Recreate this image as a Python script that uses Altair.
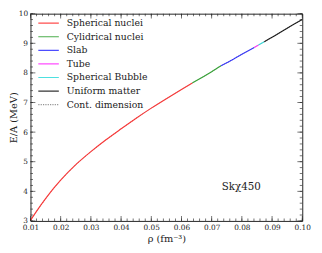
import altair as alt
import pandas as pd
import numpy as np

# ---- data ----
rho = [0.010, 0.0125, 0.015, 0.0175, 0.020, 0.025, 0.030, 0.035, 0.040, 0.045,
       0.050, 0.055, 0.060, 0.0636, 0.065, 0.070, 0.0731, 0.075, 0.080, 0.0841,
       0.0855, 0.0874, 0.090, 0.095, 0.100]
energy = [3.02, 3.40, 3.75, 4.08, 4.38, 4.90, 5.34, 5.74, 6.11, 6.47,
          6.81, 7.13, 7.44, 7.66, 7.74, 8.04, 8.24, 8.34, 8.63, 8.86,
          8.94, 9.05, 9.20, 9.51, 9.80]

phase_names = ["Spherical nuclei", "Cylidrical nuclei", "Slab", "Tube",
               "Spherical Bubble", "Uniform matter"]
phase_edges = [0.010, 0.0636, 0.0731, 0.0841, 0.0855, 0.0874, 0.100]
phase_colors = ["#ff2020", "#1f9a1f", "#2020ff", "#ff20ff", "#20d8d8", "#000000"]
extra_name = "Cont. dimension"
extra_color = "#777777"

x_major = [0.01, 0.02, 0.03, 0.04, 0.05, 0.06, 0.07, 0.08, 0.09, 0.10]
y_major = [3, 4, 5, 6, 7, 8, 9, 10]

note_text = ["Sk\u03c7450"]
note_rho = [0.0798]
note_E = [4.14]

# ---- build tables ----
rows = []
for i, name in enumerate(phase_names):
    lo, hi = phase_edges[i], phase_edges[i + 1]
    for r, e in zip(rho, energy):
        if lo - 1e-9 <= r <= hi + 1e-9:
            rows.append({"rho": r, "E": e, "phase": name})
df = pd.DataFrame(rows)
df_dot = pd.DataFrame({"rho": rho, "E": energy, "phase": extra_name})

all_names = phase_names + [extra_name]
all_colors = phase_colors + [extra_color]
all_dash = [[1, 0]] * 6 + [[1.2, 1.2]]
df_leg = pd.DataFrame({"name": all_names, "col": all_colors,
                       "dash": all_dash, "i": list(range(len(all_names)))})

x_minor = [round(v, 4) for v in np.arange(0.010, 0.1001, 0.002)]
y_minor = [round(v, 2) for v in np.arange(3.0, 10.001, 0.2)]
dfx_major = pd.DataFrame({"rho": x_major})
dfx_minor = pd.DataFrame({"rho": x_minor})
dfy_major = pd.DataFrame({"E": y_major})
dfy_minor = pd.DataFrame({"E": y_minor})
df_note = pd.DataFrame({"rho": note_rho, "E": note_E, "t": note_text})

W, H = 278, 212
FONT = "DejaVu Serif"
MAJ, MIN = 5, 2.6
TXT = "#222222"

xscale = alt.Scale(domain=[0.01, 0.10], nice=False, zero=False)
yscale = alt.Scale(domain=[3, 10], nice=False, zero=False)

xaxis = alt.Axis(values=x_major, format=".2f", title="\u03c1 (fm\u207b\u00b3)")
yaxis = alt.Axis(values=y_major, format="d", title="E/A (MeV)")

dotted = alt.Chart(df_dot).mark_line(strokeWidth=0.8, color=extra_color,
                                     strokeDash=[1.2, 1.2]).encode(
    x=alt.X("rho:Q", scale=xscale, axis=xaxis),
    y=alt.Y("E:Q", scale=yscale, axis=yaxis),
)

lines = alt.Chart(df).mark_line(strokeWidth=1.2, opacity=0.85,
                                interpolate="monotone").encode(
    x=alt.X("rho:Q", scale=xscale, axis=xaxis),
    y=alt.Y("E:Q", scale=yscale, axis=yaxis),
    color=alt.Color("phase:N", scale=alt.Scale(domain=phase_names, range=phase_colors),
                    legend=None),
    detail="phase:N",
)

# legend drawn as marks (rows laid out from the row index)
LEG_X0, LEG_X1, LEG_Y0, LEG_DY = 8, 29, 9.7, 13.9
leg_base = alt.Chart(df_leg).transform_calculate(
    ly=f"{LEG_Y0} + datum.i * {LEG_DY}")
leg_lines = leg_base.mark_rule(strokeWidth=1.2, opacity=0.8).encode(
    x=alt.value(LEG_X0), x2=alt.value(LEG_X1),
    y=alt.Y("ly:Q", scale=None),
    color=alt.Color("col:N", scale=None),
    strokeDash=alt.StrokeDash("dash", scale=None),
)
leg_text = leg_base.mark_text(align="left", baseline="middle", font=FONT,
                              fontSize=9.5, color=TXT).encode(
    x=alt.value(LEG_X1 + 8),
    y=alt.Y("ly:Q", scale=None),
    text="name:N",
)

def vtick(d, size, y):
    return alt.Chart(d).mark_tick(orient="vertical", size=size, thickness=0.9,
                                  color=TXT).encode(
        x=alt.X("rho:Q", scale=xscale, axis=xaxis), y=alt.value(y))
def htick(d, size, x):
    return alt.Chart(d).mark_tick(orient="horizontal", size=size, thickness=0.9,
                                  color=TXT).encode(
        y=alt.Y("E:Q", scale=yscale, axis=yaxis), x=alt.value(x))

ticks = [
    vtick(dfx_major, MAJ, H - MAJ / 2), vtick(dfx_major, MAJ, MAJ / 2),
    vtick(dfx_minor, MIN, H - MIN / 2), vtick(dfx_minor, MIN, MIN / 2),
    htick(dfy_major, MAJ, MAJ / 2), htick(dfy_major, MAJ, W - MAJ / 2),
    htick(dfy_minor, MIN, MIN / 2), htick(dfy_minor, MIN, W - MIN / 2),
]

note = alt.Chart(df_note).mark_text(font=FONT, fontSize=10.5, color=TXT).encode(
    x=alt.X("rho:Q", scale=xscale, axis=xaxis),
    y=alt.Y("E:Q", scale=yscale, axis=yaxis), text="t:N")

chart = alt.layer(
    dotted, lines, note, leg_lines, leg_text, *ticks
).properties(
    width=W, height=H,
    autosize=alt.AutoSizeParams(type="none"),
    padding={"left": 23, "top": 3, "right": 12, "bottom": 30},
    background="white",
).configure(
    font=FONT
).configure_view(
    stroke=TXT, strokeWidth=1
).configure_axis(
    tickSize=0, domain=False, grid=False, labelFont=FONT,
    labelFontSize=7.5, titleFont=FONT, titleFontSize=10,
    titleFontWeight="normal", labelColor=TXT, titleColor=TXT,
    labelFlush=False, labelOverlap=False,
).configure_axisX(
    labelPadding=3, titlePadding=3
).configure_axisY(
    labelPadding=3, titlePadding=0
)

chart.save("out.html", embed_options={"renderer": "svg", "actions": False})
